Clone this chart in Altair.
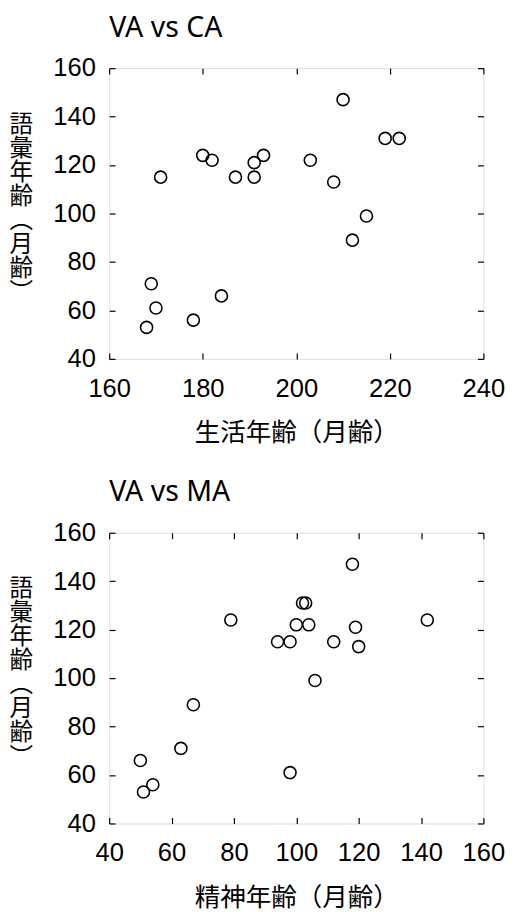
import altair as alt
import pandas as pd

# data
va = [53, 71, 61, 115, 56, 124, 122, 66, 115, 115, 121, 124, 122, 113, 147, 89, 99, 131, 131]
ca = [168, 169, 170, 171, 178, 180, 182, 184, 187, 191, 191, 193, 203, 208, 210, 212, 215, 219, 222]
ma = [51, 63, 98, 94, 54, 79, 100, 50, 98, 112, 119, 142, 104, 120, 118, 67, 106, 102, 103]

ca_ticks = [160, 180, 200, 220, 240]
ma_ticks = [40, 60, 80, 100, 120, 140, 160]
va_ticks = [40, 60, 80, 100, 120, 140, 160]

y_title = ["語", "彙", "年", "齢", "︵", "月", "齢", "︶"]

df = pd.DataFrame({"va": va, "ca": ca, "ma": ma})

W, H = 381, 296
LABEL_FONT = "Liberation Sans"
CJK_FONT = "Noto Sans CJK JP"


def panel(xfield, xdomain, xticks, title, xtitle):
    xs = alt.Scale(domain=xdomain, nice=False, zero=False)
    ys = alt.Scale(domain=[40, 160], nice=False, zero=False)
    base = alt.Chart(df)
    pts = base.mark_point(shape="circle", size=150, filled=False, color="black",
                          strokeWidth=1.6, opacity=1).encode(
        x=alt.X(f"{xfield}:Q", scale=xs,
                axis=alt.Axis(orient="bottom", values=xticks, offset=-6, tickSize=6,
                              tickColor="black", tickWidth=1.2, domain=False, grid=False,
                              labelFlush=False, labelOverlap=False,
                              labelFont=LABEL_FONT, labelFontSize=26, labelColor="black",
                              labelPadding=17, title=xtitle, titleFont=CJK_FONT,
                              titleFontSize=26, titleFontWeight="normal", titleColor="black",
                              titlePadding=19)),
        y=alt.Y("va:Q", scale=ys,
                axis=alt.Axis(orient="left", values=va_ticks, offset=-6, tickSize=6,
                              tickColor="black", tickWidth=1.2, domain=False, grid=False,
                              labelFlush=False, labelOverlap=False,
                              labelFont=LABEL_FONT, labelFontSize=26, labelColor="black",
                              labelPadding=14, title=y_title, titleFont=CJK_FONT,
                              titleFontSize=24, titleFontWeight="normal", titleColor="black",
                              titleAngle=0, titleAlign="center", titleBaseline="top",
                              titleLineHeight=24.5, titleX=-96, titleY=45)),
    )
    mirror = base.mark_point(opacity=0).encode(
        x=alt.X(f"{xfield}:Q", scale=xs,
                axis=alt.Axis(orient="top", values=xticks, offset=-6, tickSize=6,
                              tickColor="black", tickWidth=1.2, domain=False, grid=False,
                              labels=False, title=None, minExtent=0, maxExtent=0)),
        y=alt.Y("va:Q", scale=ys,
                axis=alt.Axis(orient="right", values=va_ticks, offset=-6, tickSize=6,
                              tickColor="black", tickWidth=1.2, domain=False, grid=False,
                              labels=False, title=None, minExtent=0, maxExtent=0)),
    )
    return alt.layer(pts, mirror).properties(
        width=W, height=H,
        title=alt.TitleParams(title, anchor="start", frame="group", font="Noto Sans",
                              fontSize=29, fontWeight="normal", color="black",
                              baseline="alphabetic", offset=-10),
    )


top = panel("ca", [160, 240], ca_ticks, "VA vs CA", "生活年齢（月齢）")
bottom = panel("ma", [40, 160], ma_ticks, "VA vs MA", "精神年齢（月齢）")

chart = alt.vconcat(top, bottom, spacing=32).properties(
    padding={"left": 0, "top": -3, "right": 0, "bottom": 0}
).configure_view(stroke="black", strokeWidth=1.3).configure(background="white")

chart.save("out.html", embed_options={"renderer": "svg", "actions": False})
